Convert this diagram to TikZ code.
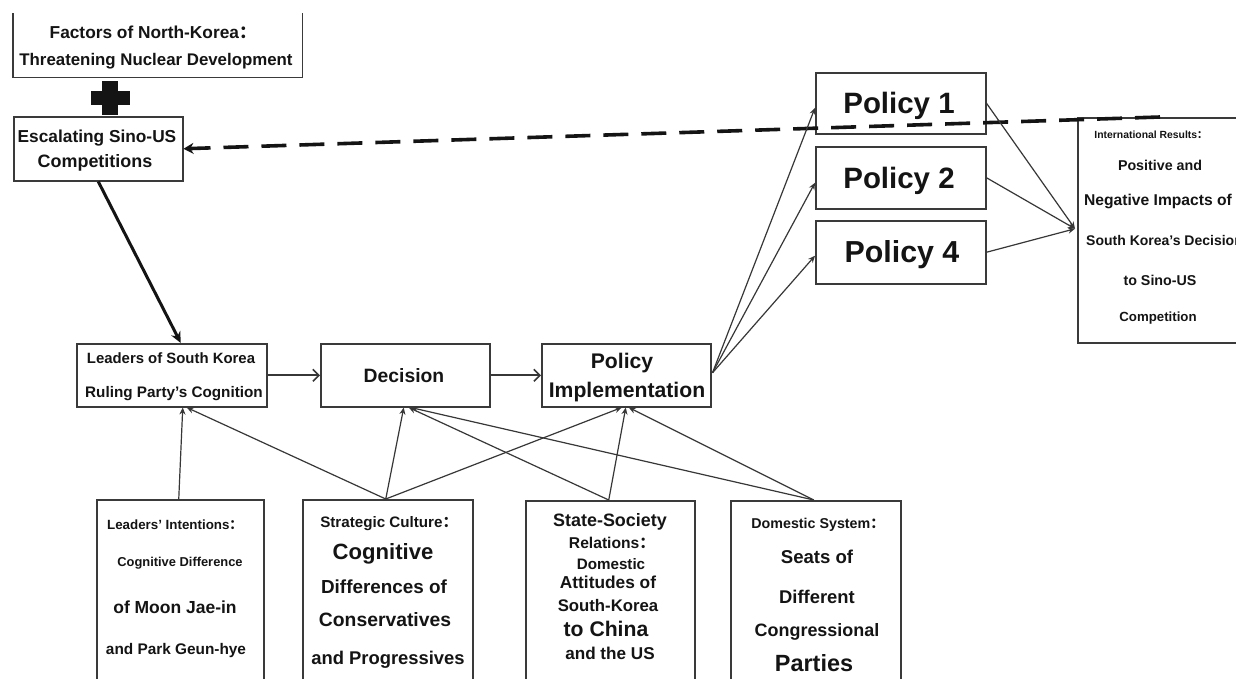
\documentclass[tikz,border=0pt]{standalone}
\usepackage{fontspec}
\setmainfont{Liberation Sans}
\newfontfamily\cjk{Noto Sans CJK SC}
\usetikzlibrary{arrows.meta,calc}
\definecolor{ink}{HTML}{141414}
\definecolor{edge}{HTML}{3A3A3A}
\newcommand\TX[5]{\pgfmathsetmacro\myfs{0.92*#4}\node[lbl,font=\fontsize{\myfs}{\myfs}\selectfont\bfseries] (#1) at (#2,{#3+0.36*\myfs}) {#5};}
\newcommand\BX[5]{\node[box,minimum width=#4pt,minimum height=#5pt] (#1) at (#2,#3) {};}
\newcommand\CL{{\cjk ：}}
\tikzset{
  lbl/.style={anchor=base,inner sep=0pt,text=ink},
  box/.style={draw=edge,line width=1.5pt,inner sep=0pt,anchor=north west},
  conn/.style={draw=ink!85,line width=1.2pt,-{Stealth[length=7pt,width=6pt]}},
  harr/.style={draw=ink!85,line width=1.8pt,-{Straight Barb[length=6pt,width=12pt,line width=1.6pt]}},
  bigarr/.style={draw=ink,line width=3pt,-{Stealth[length=11pt,width=10pt]}},
  dasharr/.style={draw=ink,line width=3.6pt,dash pattern=on 25pt off 13pt,-{Stealth[length=10pt,width=11pt]}}
}
\begin{document}
\begin{tikzpicture}[x=1pt,y=-1pt]
\useasboundingbox (0,0) rectangle (1236,678);
\clip (0,0) rectangle (1236,678);
\fill[white] (0,0) rectangle (1236,678);

% Factors box (top edge not shown)
\node[inner sep=0pt,anchor=north west,minimum width=289pt,minimum height=64pt] (fac) at (13,13) {};
\draw[edge,line width=1.5pt] (fac.north west) -- (fac.south west) -- (fac.south east) -- (fac.north east);
\TX{fac1}{153}{32}{18.8}{Factors of North-Korea\CL}
\TX{fac2}{156}{59}{18.3}{Threatening Nuclear Development}

% plus sign
\fill[ink] (102,81) rectangle (118,115);
\fill[ink] (91,91) rectangle (130,105);

% Escalating
\BX{esc}{13}{116}{169}{64}
\TX{esc1}{97}{136}{18.8}{Escalating Sino-US}
\TX{esc2}{95}{161}{19.5}{Competitions}

% middle row
\BX{lead}{76}{343}{190}{63}
\TX{lead1}{171}{358}{16.2}{Leaders of South Korea}
\TX{lead2}{174}{392}{16.6}{Ruling Party's Cognition}
\BX{dec}{320}{343}{169}{63}
\TX{dec1}{404}{376}{21}{Decision}
\BX{pi}{541}{343}{169}{63}
\TX{pi1}{622}{361}{23}{Policy}
\TX{pi2}{627}{390}{23}{Implementation}

% policies
\BX{p1}{815}{72}{170}{61}
\TX{p1t}{899}{103}{32}{Policy 1}
\BX{p2}{815}{146}{170}{62}
\TX{p2t}{899}{178}{32}{Policy 2}
\BX{p4}{815}{220}{170}{63}
\TX{p4t}{902}{252}{33}{Policy 4}

% international results
\BX{intl}{1077}{117}{172}{225}
\TX{in1}{1151}{135}{11.3}{International Results\CL}
\TX{in2}{1160}{165}{15.5}{Positive and}
\TX{in3}{1158}{200}{17}{Negative Impacts of}
\node[lbl,anchor=base west,font=\fontsize{14}{14}\selectfont\bfseries] (in4) at (1086,{240+0.36*14}) {South Korea's Decision};
\TX{in5}{1160}{280}{15.5}{to Sino-US}
\TX{in6}{1158}{317}{14.4}{Competition}

% bottom boxes
\BX{li}{96}{499}{167}{200}
\TX{li1}{175}{525}{14.5}{Leaders' Intentions\CL}
\TX{li2}{180}{562}{14}{Cognitive Difference}
\TX{li3}{175}{607}{19}{of Moon Jae-in}
\TX{li4}{176}{649}{16.7}{and Park Geun-hye}

\BX{sc}{302}{499}{170}{200}
\TX{sc1}{389}{522}{16.5}{Strategic Culture\CL}
\TX{sc2}{383}{552}{24}{Cognitive}
\TX{sc3}{384}{587}{20.5}{Differences of}
\TX{sc4}{385}{620}{21}{Conservatives}
\TX{sc5}{388}{658}{20}{and Progressives}

\BX{ss}{525}{500}{169}{200}
\TX{ss1}{610}{520}{19.5}{State-Society}
\TX{ss2}{612}{543}{17}{Relations\CL}
\TX{ss3}{611}{564}{16.5}{Domestic}
\TX{ss4}{608}{582}{18.8}{Attitudes of}
\TX{ss5}{608}{605}{18.2}{South-Korea}
\TX{ss6}{606}{629}{23}{to China}
\TX{ss7}{610}{653}{18.6}{and the US}

\BX{ds}{730}{500}{170}{200}
\TX{ds1}{818}{523}{15.5}{Domestic System\CL}
\TX{ds2}{817}{557}{20.2}{Seats of}
\TX{ds3}{817}{597}{20}{Different}
\TX{ds4}{817}{630}{19.5}{Congressional}
\TX{ds5}{814}{663}{25.5}{Parties}

% connectors
\coordinate (dend) at (1160,117);
\draw[dasharr] (dend) -- (esc.east);
\draw[bigarr] (esc.south) -- ($(lead.north)+(9,0)$);
\draw[harr] (lead.east) -- (dec.west);
\draw[harr] (dec.east) -- (pi.west);

\draw[conn] ($(pi.east)+(1,-2.5)$) -- ($(p1.west)+(0,4.5)$);
\draw[conn] ($(pi.east)+(1,-2.5)$) -- ($(p2.west)+(0,5)$);
\draw[conn] ($(pi.east)+(1,-2.5)$) -- ($(p4.west)+(0,3.5)$);

\draw[conn] (p1.east) -- ($(intl.west)+(-2,-1.5)$);
\draw[conn] (p2.east) -- ($(intl.west)+(-2,-1.5)$);
\draw[conn] (p4.east) -- ($(intl.west)+(-2,-1.5)$);

\draw[conn] ($(li.north)+(-1.5,0)$) -- ($(lead.south)+(11,0)$);
\draw[conn] ($(sc.north)+(-2,0)$) -- ($(lead.south)+(15,0)$);
\draw[conn] ($(sc.north)+(-2,0)$) -- ($(dec.south)+(-1.5,0)$);
\draw[conn] ($(sc.north)+(-2,0)$) -- ($(pi.south)+(-4.5,0)$);
\draw[conn] ($(ss.north)+(-1.5,0)$) -- ($(dec.south)+(3.5,0)$);
\draw[conn] ($(ss.north)+(-1.5,0)$) -- ($(pi.south)+(-0.5,0)$);
\draw[conn] ($(ds.north)+(-2,0)$) -- ($(dec.south)+(5.5,0)$);
\draw[conn] ($(ds.north)+(-2,0)$) -- ($(pi.south)+(2.5,0)$);
\end{tikzpicture}
\end{document}
